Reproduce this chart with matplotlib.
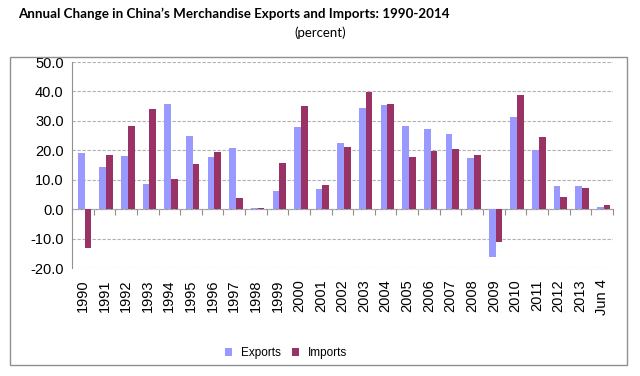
import matplotlib.pyplot as plt
import numpy as np
from matplotlib.patches import Rectangle

#%% Data
years = ['1990', '1991', '1992', '1993', '1994', '1995', '1996', '1997',
         '1998', '1999', '2000', '2001', '2002', '2003', '2004', '2005',
         '2006', '2007', '2008', '2009', '2010', '2011', '2012', '2013',
         'Jun 4']
exports = [19.2, 14.4, 18.1, 8.7, 35.6, 24.9, 17.9, 20.9, 0.5, 6.1, 27.8,
           6.8, 22.4, 34.4, 35.4, 28.4, 27.2, 25.7, 17.5, -16.2, 31.2, 20.2,
           7.8, 7.8, 0.8]
imports = [-13.2, 18.5, 28.3, 34.0, 10.4, 15.5, 19.5, 3.8, 0.3, 15.8, 35.2,
           8.2, 21.2, 39.8, 35.8, 17.6, 19.9, 20.6, 18.5, -11.3, 38.9, 24.7,
           4.3, 7.2, 1.5]

#%% Plot
plt.rcParams['font.family'] = ['Liberation Sans', 'DejaVu Sans']
fig = plt.figure(figsize=(6.4, 3.76), dpi=100)

# outer frame
fig.patches.append(Rectangle((0.016, 0.029), 0.964, 0.819, transform=fig.transFigure,
                             fill=False, edgecolor='#909090', linewidth=1.0))

fig.text(0.028, 0.962, 'Annual Change in China\u2019s Merchandise Exports and Imports: 1990-2014',
         fontsize=9.6, fontweight='bold', family=['Lato', 'DejaVu Sans'], va='center')
fig.text(0.5, 0.912, '(percent)', fontsize=9.5, family=['Lato', 'DejaVu Sans'],
         ha='center', va='center')

ax = fig.add_axes([0.1125, 0.287, 0.845, 0.548])
x = np.arange(len(years))
w = 0.31
ax.bar(x - w / 2 + 0.08, exports, w, color='#9999ff', label='Exports', zorder=3)
ax.bar(x + w / 2 + 0.08, imports, w, color='#993366', label='Imports', zorder=3)

ax.set_ylim(-20, 50)
ax.set_xlim(-0.5, len(years) - 0.5)
ax.set_yticks(np.arange(-20, 51, 10))
ax.set_yticklabels(['%.1f' % v for v in np.arange(-20, 51, 10)], fontsize=10.5)
ax.yaxis.grid(True, color='#b0b0b0', linestyle=(0, (3, 1.5)), linewidth=0.8, zorder=0)
ax.tick_params(axis='y', length=0, pad=6)

ax.set_xticks(x)
ax.set_xticklabels(years, rotation=90, fontsize=10.5)
ax.tick_params(axis='x', length=0, pad=8)

for s in ['top', 'right', 'bottom']:
    ax.spines[s].set_visible(False)
ax.spines['left'].set_color('#909090')

# zero line with category boundary ticks
sec = ax.secondary_xaxis(20 / 70)
sec.set_xticks(np.arange(-0.5, len(years), 1))
sec.set_xticklabels([])
sec.tick_params(length=4, color='#909090', direction='out')
sec.spines['bottom'].set_color('#909090')

fig.legend(loc='center', bbox_to_anchor=(0.447, 0.061), ncol=2, frameon=False,
           fontsize=8.5, handlelength=0.6, handleheight=0.6, handletextpad=0.7,
           columnspacing=1.0)

fig.savefig('out.png', dpi=100)
